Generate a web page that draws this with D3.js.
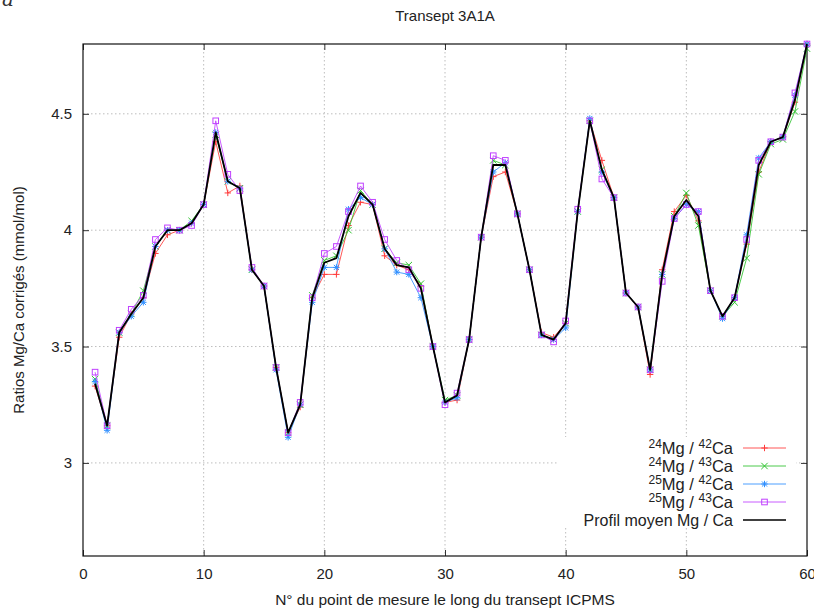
<!DOCTYPE html>
<html>
<head>
<meta charset="utf-8">
<script src="https://cdn.jsdelivr.net/npm/d3@7"></script>
<style>
  html, body { margin: 0; padding: 0; background: #fff; }
  svg { display: block; }
  text { font-family: "Liberation Sans", Arial, sans-serif; fill: #222; }
</style>
</head>
<body>
<svg id="chart" width="814" height="610"></svg>
<script>
// ---------- DATA ----------
const pointNumbers = d3.range(1, 61);

const mg24ca42 = [
  3.33,3.16,3.54,3.64,3.71,3.90,3.98,4.00,4.03,4.11,
  4.38,4.16,4.19,3.83,3.76,3.41,3.13,3.24,3.71,3.81,
  3.81,4.02,4.12,4.11,3.89,3.85,3.83,3.76,3.50,3.26,
  3.27,3.53,3.97,4.23,4.25,4.07,3.83,3.56,3.54,3.60,
  4.08,4.47,4.30,4.14,3.73,3.67,3.38,3.83,4.08,4.15,
  4.04,3.74,3.63,3.71,3.94,4.25,4.38,4.40,4.55,4.80
];
const mg24ca43 = [
  3.36,3.16,3.56,3.64,3.74,3.93,4.00,4.00,4.04,4.11,
  4.41,4.21,4.18,3.83,3.76,3.41,3.13,3.25,3.72,3.87,
  3.89,4.00,4.17,4.11,3.92,3.86,3.85,3.77,3.50,3.27,
  3.29,3.53,3.97,4.30,4.28,4.07,3.83,3.55,3.53,3.60,
  4.08,4.47,4.26,4.14,3.73,3.67,3.40,3.81,4.06,4.16,
  4.02,3.74,3.63,3.69,3.88,4.24,4.37,4.39,4.51,4.78
];
const mg25ca42 = [
  3.35,3.14,3.56,3.63,3.69,3.93,4.00,4.00,4.03,4.11,
  4.42,4.21,4.18,3.83,3.76,3.40,3.11,3.25,3.69,3.84,
  3.84,4.09,4.14,4.11,3.92,3.82,3.81,3.71,3.50,3.26,
  3.28,3.53,3.97,4.25,4.29,4.07,3.83,3.55,3.53,3.58,
  4.08,4.48,4.25,4.14,3.73,3.67,3.40,3.81,4.05,4.11,
  4.08,3.74,3.62,3.71,3.98,4.31,4.38,4.40,4.58,4.80
];
const mg25ca43 = [
  3.39,3.16,3.57,3.66,3.72,3.96,4.01,4.00,4.02,4.11,
  4.47,4.24,4.17,3.84,3.76,3.41,3.13,3.26,3.71,3.90,
  3.93,4.08,4.19,4.12,3.96,3.87,3.83,3.75,3.50,3.25,
  3.30,3.53,3.97,4.32,4.30,4.07,3.83,3.55,3.52,3.61,
  4.09,4.47,4.22,4.14,3.73,3.67,3.40,3.78,4.05,4.11,
  4.08,3.74,3.63,3.71,3.96,4.30,4.38,4.40,4.59,4.80
];
const meanProfile = [
  3.34,3.16,3.56,3.64,3.71,3.93,4.00,4.00,4.03,4.11,
  4.42,4.21,4.18,3.83,3.76,3.41,3.13,3.25,3.71,3.86,
  3.88,4.06,4.16,4.11,3.92,3.85,3.84,3.75,3.50,3.26,
  3.29,3.53,3.97,4.28,4.28,4.07,3.83,3.55,3.53,3.60,
  4.08,4.47,4.26,4.14,3.73,3.67,3.40,3.81,4.06,4.13,
  4.06,3.74,3.63,3.71,3.95,4.28,4.38,4.40,4.56,4.80
];

const xTicks = [0, 10, 20, 30, 40, 50, 60];
const yTicks = [3, 3.5, 4, 4.5];
const xDomain = [0, 60];
const yDomain = [2.6, 4.8];

const titleText = "Transept 3A1A";
const xLabel = "N° du point de mesure le long du transept ICPMS";
const yLabel = "Ratios Mg/Ca corrigés (mmol/mol)";

// isotope legend labels: [massMg, massCa]
const seriesDefs = [
  { iso: ["24", "42"], values: mg24ca42, color: "#ff3b3b", marker: "plus" },
  { iso: ["24", "43"], values: mg24ca43, color: "#2fc22f", marker: "cross" },
  { iso: ["25", "42"], values: mg25ca42, color: "#2f8fff", marker: "star" },
  { iso: ["25", "43"], values: mg25ca43, color: "#c040ff", marker: "square" }
];

// ---------- LAYOUT ----------
const svg = d3.select("#chart");
const pLeft = 83, pRight = 807, pTop = 44, pBottom = 556;

const x = d3.scaleLinear().domain(xDomain).range([pLeft, pRight]);
const y = d3.scaleLinear().domain(yDomain).range([pBottom, pTop]);

// stray label fragment at top-left corner
svg.append("text").attr("x", 2).attr("y", 6)
  .style("font-family", "'DejaVu Serif', serif").style("font-style", "italic")
  .style("font-size", "20px").style("fill", "#333").text("a");

// grid
const grid = svg.append("g");
grid.selectAll("line.gx").data(xTicks.filter(t => t > xDomain[0] && t < xDomain[1]))
  .join("line")
  .attr("x1", d => x(d)).attr("x2", d => x(d))
  .attr("y1", pTop).attr("y2", pBottom)
  .attr("stroke", "#bdbdbd").attr("stroke-width", 1)
  .attr("stroke-dasharray", "1.5,2.5");
grid.selectAll("line.gy").data(yTicks)
  .join("line")
  .attr("x1", pLeft).attr("x2", pRight)
  .attr("y1", d => y(d)).attr("y2", d => y(d))
  .attr("stroke", "#bdbdbd").attr("stroke-width", 1)
  .attr("stroke-dasharray", "1.5,2.5");

// axes via d3 (ticks inward)
const axisBottom = d3.axisBottom(x).tickValues(xTicks).tickSizeInner(-6).tickSizeOuter(0).tickPadding(12).tickFormat(d3.format("d"));
const axisTop = d3.axisTop(x).tickValues(xTicks).tickSizeInner(-6).tickSizeOuter(0).tickFormat("");
const axisLeft = d3.axisLeft(y).tickValues(yTicks).tickSizeInner(-6).tickSizeOuter(0).tickPadding(11).tickFormat(d => d3.format("")(d));
const axisRight = d3.axisRight(y).tickValues(yTicks).tickSizeInner(-6).tickSizeOuter(0).tickFormat("");

function styleAxis(g) {
  g.select(".domain").remove();
  g.selectAll(".tick line").attr("stroke", "#333");
  g.selectAll(".tick text").style("font-size", "15px").style("fill", "#222")
    .style("font-family", "'Liberation Sans', Arial, sans-serif");
}
svg.append("g").attr("transform", `translate(0,${pBottom})`).call(axisBottom).call(styleAxis);
svg.append("g").attr("transform", `translate(0,${pTop})`).call(axisTop).call(styleAxis);
svg.append("g").attr("transform", `translate(${pLeft},0)`).call(axisLeft).call(styleAxis);
svg.append("g").attr("transform", `translate(${pRight},0)`).call(axisRight).call(styleAxis);

// border
svg.append("rect").attr("x", pLeft).attr("y", pTop)
  .attr("width", pRight - pLeft).attr("height", pBottom - pTop)
  .attr("fill", "none").attr("stroke", "#111").attr("stroke-width", 1.2);

// legend background (covers grid)
svg.append("rect").attr("x", 558).attr("y", 437).attr("width", 238).attr("height", 90)
  .attr("fill", "#fff");

// markers
function drawMarker(g, type, cx, cy, color) {
  const s = 3.2;
  if (type === "plus") {
    g.append("path").attr("d", `M${cx-s},${cy}H${cx+s}M${cx},${cy-s}V${cy+s}`)
      .attr("stroke", color).attr("stroke-width", 1).attr("fill", "none");
  } else if (type === "cross") {
    g.append("path").attr("d", `M${cx-s},${cy-s}L${cx+s},${cy+s}M${cx-s},${cy+s}L${cx+s},${cy-s}`)
      .attr("stroke", color).attr("stroke-width", 1).attr("fill", "none");
  } else if (type === "star") {
    g.append("path").attr("d", `M${cx-s},${cy}H${cx+s}M${cx},${cy-s}V${cy+s}M${cx-s*0.8},${cy-s*0.8}L${cx+s*0.8},${cy+s*0.8}M${cx-s*0.8},${cy+s*0.8}L${cx+s*0.8},${cy-s*0.8}`)
      .attr("stroke", color).attr("stroke-width", 1).attr("fill", "none");
  } else if (type === "square") {
    g.append("rect").attr("x", cx - 2.8).attr("y", cy - 2.8).attr("width", 5.6).attr("height", 5.6)
      .attr("stroke", color).attr("stroke-width", 1).attr("fill", "none");
  }
}

const line = d3.line().x((d, i) => x(pointNumbers[i])).y(d => y(d));

// series
seriesDefs.forEach(s => {
  const g = svg.append("g");
  g.append("path").datum(s.values).attr("d", line)
    .attr("fill", "none").attr("stroke", s.color).attr("stroke-width", 1).attr("opacity", 0.85);
  s.values.forEach((v, i) => drawMarker(g, s.marker, x(pointNumbers[i]), y(v), s.color));
});

// mean profile
svg.append("path").datum(meanProfile).attr("d", line)
  .attr("fill", "none").attr("stroke", "#000").attr("stroke-width", 1.8)
  .attr("stroke-linejoin", "round");

// legend
const legTextX = 733, legLineX1 = 743, legLineX2 = 786;
const legRows = [448, 466, 484, 502, 520];
seriesDefs.forEach((s, i) => {
  const ly = legRows[i];
  const t = svg.append("text").attr("x", legTextX).attr("y", ly + 6)
    .attr("text-anchor", "end").style("font-size", "16.5px");
  t.append("tspan").text(s.iso[0]).style("font-size", "12px").attr("dy", -6);
  t.append("tspan").text("Mg / ").attr("dy", 6);
  t.append("tspan").text(s.iso[1]).style("font-size", "12px").attr("dy", -6);
  t.append("tspan").text("Ca").attr("dy", 6);
  svg.append("line").attr("x1", legLineX1).attr("x2", legLineX2).attr("y1", ly).attr("y2", ly)
    .attr("stroke", s.color).attr("stroke-width", 1).attr("opacity", 0.85);
  drawMarker(svg.append("g"), s.marker, (legLineX1 + legLineX2) / 2, ly, s.color);
});
svg.append("text").attr("x", legTextX).attr("y", legRows[4] + 6)
  .attr("text-anchor", "end").style("font-size", "16px").text("Profil moyen Mg / Ca");
svg.append("line").attr("x1", legLineX1).attr("x2", legLineX2)
  .attr("y1", legRows[4]).attr("y2", legRows[4])
  .attr("stroke", "#000").attr("stroke-width", 1.5);

// titles
svg.append("text").attr("x", (pLeft + pRight) / 2).attr("y", 21)
  .attr("text-anchor", "middle").style("font-size", "15px").text(titleText);
svg.append("text").attr("x", (pLeft + pRight) / 2).attr("y", 605)
  .attr("text-anchor", "middle").style("font-size", "15.5px").text(xLabel);
svg.append("text")
  .attr("transform", `translate(24,${(pTop + pBottom) / 2}) rotate(-90)`)
  .attr("text-anchor", "middle").style("font-size", "15px").text(yLabel);
</script>
</body>
</html>
